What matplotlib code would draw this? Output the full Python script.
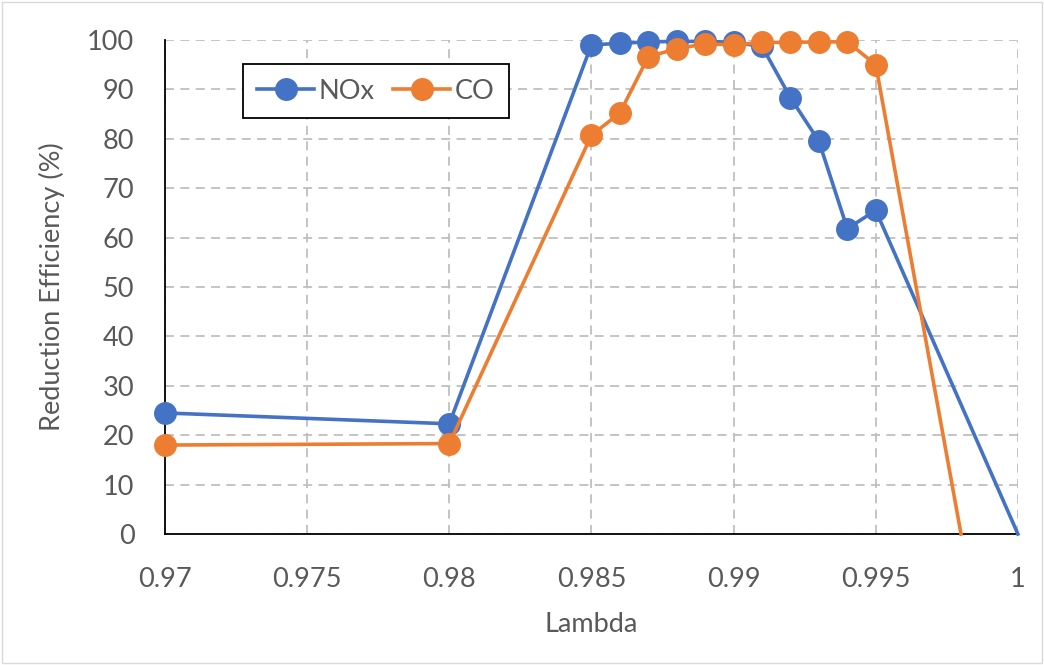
import matplotlib.pyplot as plt
from matplotlib.patches import Rectangle

# lambda sweep and reduction efficiency (%)
nox_lambda = [0.970, 0.980, 0.985, 0.986, 0.987, 0.988, 0.989, 0.990,
              0.991, 0.992, 0.993, 0.994, 0.995, 1.000]
nox_eff = [24.5, 22.3, 99.0, 99.3, 99.6, 99.7, 99.7, 99.5,
           98.7, 88.3, 79.5, 61.8, 65.5, 0.0]

co_lambda = [0.970, 0.980, 0.985, 0.986, 0.987, 0.988, 0.989, 0.990,
             0.991, 0.992, 0.993, 0.994, 0.995, 0.998]
co_eff = [18.0, 18.3, 80.7, 85.2, 96.6, 98.2, 99.2, 99.0,
          99.5, 99.5, 99.6, 99.6, 95.0, 0.0]

x_ticks = [0.97, 0.975, 0.98, 0.985, 0.99, 0.995, 1.0]
x_labels = ["0.97", "0.975", "0.98", "0.985", "0.99", "0.995", "1"]
y_ticks = list(range(0, 101, 10))

BLUE, ORANGE, TXT = "#4472C4", "#ED7D31", "#595959"
FS = 19.5
LW, MS = 2.6, 15.5

plt.rcParams["font.family"] = ["Lato", "DejaVu Sans"]

fig = plt.figure(figsize=(10.44, 6.65), dpi=100)
ax = fig.add_axes([0.158, 0.197, 0.817, 0.743])

# the last point of each series has no marker
ax.plot(nox_lambda, nox_eff, color=BLUE, lw=LW, zorder=3, clip_on=False)
ax.plot(nox_lambda[:-1], nox_eff[:-1], "o", color=BLUE, ms=MS, zorder=4, clip_on=False)
ax.plot(co_lambda, co_eff, color=ORANGE, lw=LW, zorder=5, clip_on=False)
ax.plot(co_lambda[:-1], co_eff[:-1], "o", color=ORANGE, ms=MS, zorder=6, clip_on=False)

ax.set_xlim(0.97, 1.0)
ax.set_ylim(0, 100)
ax.set_xticks(x_ticks)
ax.set_xticklabels(x_labels)
ax.set_yticks(y_ticks)
ax.tick_params(length=0, labelsize=FS, colors=TXT)
ax.tick_params(axis="x", pad=24)
ax.tick_params(axis="y", pad=22)
ax.grid(True, color="#BFBFBF", ls=(0, (5, 3.5)), lw=1.3)
ax.set_axisbelow(True)
for side in ("top", "right"):
    ax.spines[side].set_visible(False)
for side in ("left", "bottom"):
    ax.spines[side].set_color("black")
    ax.spines[side].set_linewidth(1.3)

ax.set_xlabel("Lambda", fontsize=FS, color=TXT, labelpad=14)
ax.set_ylabel("Reduction Efficiency (%)", fontsize=FS, color=TXT, labelpad=16)

proxy_n, = ax.plot([], [], "-o", color=BLUE, lw=LW, ms=MS)
proxy_c, = ax.plot([], [], "-o", color=ORANGE, lw=LW, ms=MS)
leg = ax.legend([proxy_n, proxy_c], ["NOx", "CO"], ncol=2, fontsize=FS,
                loc="upper left", bbox_to_anchor=(0.091, 0.952),
                frameon=True, fancybox=False, framealpha=1,
                handlelength=2.1, handletextpad=0.15, columnspacing=0.7,
                borderpad=0.55, borderaxespad=0)
leg.get_frame().set_edgecolor("black")
leg.get_frame().set_linewidth(1.3)
for t in leg.get_texts():
    t.set_color(TXT)

# thin chart-area border
fig.patches.append(Rectangle((0.002, 0.003), 0.996, 0.994, transform=fig.transFigure,
                             fill=False, edgecolor="#D9D9D9", lw=1))

fig.savefig("out.png", dpi=100)
